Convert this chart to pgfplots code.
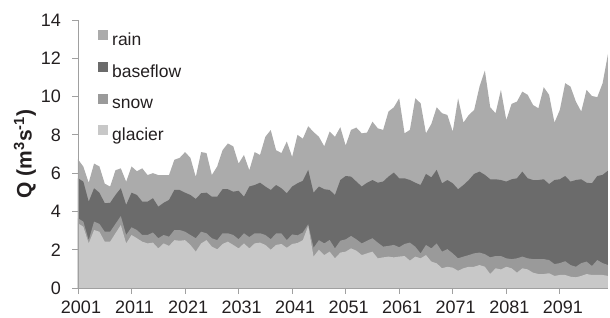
\documentclass[border=0pt]{standalone}
\usepackage{fontspec}
\setmainfont{Liberation Sans}
\usepackage{pgfplots}
\usepackage{pgfplotstable}
\pgfplotsset{compat=1.18}
\definecolor{rainc}{HTML}{ABABAB}
\definecolor{basec}{HTML}{6B6B6B}
\definecolor{snowc}{HTML}{9A9A9A}
\definecolor{glacc}{HTML}{C8C8C8}
\definecolor{axc}{HTML}{A0A0A0}
\definecolor{txt}{HTML}{231F20}

% cumulative tops of the stacked areas (glacier, +snow, +baseflow, +rain)
\pgfplotstableread{
year glacier snowtop basetop total
2001 3.38 3.64 5.73 6.72
2002 3.20 3.47 5.56 6.34
2003 2.33 2.50 4.51 5.50
2004 3.03 3.47 5.21 6.50
2005 2.94 3.35 4.98 6.35
2006 2.42 2.94 4.43 5.45
2007 2.42 2.94 4.45 5.30
2008 2.86 3.35 4.86 6.15
2009 3.29 3.76 5.21 6.25
2010 2.33 2.77 4.34 5.55
2011 2.77 3.17 4.98 6.35
2012 2.60 3.03 4.86 6.10
2013 2.42 2.77 4.51 6.25
2014 2.33 2.77 4.51 5.90
2015 2.37 2.90 4.69 6.00
2016 2.07 2.60 4.25 5.90
2017 2.33 2.77 4.45 5.90
2018 2.20 2.68 4.60 5.90
2019 2.50 3.03 5.12 6.70
2020 2.47 3.03 5.12 6.80
2021 2.50 2.94 4.98 7.10
2022 2.25 2.77 4.86 6.80
2023 1.90 2.60 4.65 5.80
2024 2.33 2.94 4.95 7.10
2025 2.50 2.86 4.98 7.05
2026 2.16 2.60 4.77 5.90
2027 2.02 2.50 4.77 6.35
2028 2.30 2.86 5.16 7.20
2029 2.42 2.86 5.16 7.55
2030 2.25 2.77 5.03 7.40
2031 2.07 2.55 5.08 6.50
2032 2.33 2.86 4.77 6.95
2033 2.07 2.66 5.30 6.15
2034 2.33 2.86 5.38 7.10
2035 2.37 2.86 5.50 6.95
2036 2.25 2.77 5.30 7.90
2037 2.00 2.55 5.12 8.25
2038 2.25 2.85 5.38 7.20
2039 2.30 2.85 5.21 7.05
2040 2.10 2.50 4.95 7.65
2041 2.30 2.80 5.30 6.85
2042 2.35 2.75 5.47 8.00
2043 2.50 2.90 5.60 7.80
2044 3.25 3.33 6.17 8.45
2045 1.64 2.10 4.98 8.15
2046 2.00 2.50 5.30 7.90
2047 1.72 2.33 5.16 7.40
2048 1.90 2.51 5.12 8.17
2049 1.55 2.07 4.86 7.90
2050 1.85 2.47 5.64 8.40
2051 1.90 2.54 5.85 7.44
2052 2.07 2.72 5.82 8.26
2053 1.95 2.54 5.56 8.38
2054 1.72 2.33 5.30 8.08
2055 1.81 2.47 5.50 8.12
2056 1.90 2.60 5.64 8.69
2057 1.55 2.37 5.50 8.34
2058 1.60 2.16 5.56 8.26
2059 1.64 2.20 5.82 9.22
2060 1.60 2.25 6.03 9.44
2061 1.64 2.13 5.73 9.91
2062 1.67 2.30 5.73 8.08
2063 1.43 2.37 5.64 8.26
2064 1.64 2.16 5.50 9.91
2065 1.55 1.81 5.38 9.65
2066 1.72 2.25 5.96 8.08
2067 1.38 2.07 5.78 8.57
2068 1.29 2.33 6.17 9.44
2069 1.03 1.90 5.47 9.13
2070 1.11 2.03 5.64 9.04
2071 1.06 1.81 5.47 8.17
2072 0.90 1.55 5.16 9.91
2073 1.03 1.64 5.38 8.64
2074 1.11 1.72 5.64 9.04
2075 1.11 1.81 5.96 9.30
2076 1.20 1.85 6.08 10.52
2077 1.11 1.77 5.91 11.36
2078 0.73 1.60 5.68 9.44
2079 1.03 1.67 5.68 9.13
2080 0.97 1.67 5.64 10.35
2081 1.11 1.55 5.56 8.78
2082 1.03 1.51 5.68 9.62
2083 0.80 1.55 5.73 9.74
2084 1.03 1.64 6.08 10.26
2085 0.97 1.55 5.73 10.09
2086 0.80 1.51 5.64 9.56
2087 0.73 1.51 5.64 9.39
2088 0.73 1.51 5.68 10.49
2089 0.77 1.46 5.43 10.09
2090 0.63 1.25 5.64 8.64
2091 0.68 1.30 5.68 9.30
2092 0.68 1.40 5.85 10.70
2093 0.59 1.20 5.56 10.52
2094 0.56 1.11 5.64 9.74
2095 0.63 1.30 5.68 9.22
2096 0.73 1.38 5.50 10.35
2097 0.68 1.15 5.47 10.03
2098 0.68 1.46 5.85 9.97
2099 0.68 1.30 5.91 10.70
2100 0.63 1.20 6.13 12.23
}\flowdata

\begin{document}
\begin{tikzpicture}
\useasboundingbox (-78pt,-29pt) rectangle (532pt,288pt);
\begin{axis}[
  at={(0pt,0pt)}, anchor=south west,
  scale only axis, width=530pt, height=268pt,
  xmin=2001, xmax=2100, ymin=0, ymax=14,
  xtick={2001,2011,...,2091}, ytick={0,2,...,14},
  axis x line*=bottom, axis y line*=left,
  axis line style={draw=axc, line width=0.9pt},
  tick style={draw=axc, line width=0.9pt},
  tick align=outside, major tick length=6pt,
  axis on top,
  /pgf/number format/assume math mode=true,
  /pgf/number format/1000 sep={},
  xticklabel style={font=\fontsize{18}{18}\selectfont, text=txt, inner sep=0pt, anchor=north, yshift=-6.5pt, xshift=3pt},
  yticklabel style={font=\fontsize{18}{18}\selectfont, text=txt, inner sep=0pt, anchor=east, xshift=-11pt},
  ylabel={Q (m\textsuperscript{3}s\textsuperscript{-1})},
  every axis y label/.style={at={(rel axis cs:-0.1,0.5)}, rotate=90, anchor=center, font=\bfseries\fontsize{21}{21}\selectfont, text=txt},
  legend style={at={(rel axis cs:0.0377,0.964)}, anchor=north west, draw=none, fill=none, inner sep=0pt, row sep=15.2pt, column sep=4pt, font=\fontsize{17.5}{17.5}\selectfont, text=txt, nodes={inner sep=0pt}},
  legend cell align=left,
  legend image code/.code={\path[#1] (0pt,0pt) rectangle (10pt,10pt);},
]
\addplot[fill=rainc, draw=none] table[x=year, y=total]{\flowdata} \closedcycle;
\addlegendentry{rain}
\addplot[fill=basec, draw=none] table[x=year, y=basetop]{\flowdata} \closedcycle;
\addlegendentry{baseflow}
\addplot[fill=snowc, draw=none] table[x=year, y=snowtop]{\flowdata} \closedcycle;
\addlegendentry{snow}
\addplot[fill=glacc, draw=none] table[x=year, y=glacier]{\flowdata} \closedcycle;
\addlegendentry{glacier}
\end{axis}
\end{tikzpicture}
\end{document}
